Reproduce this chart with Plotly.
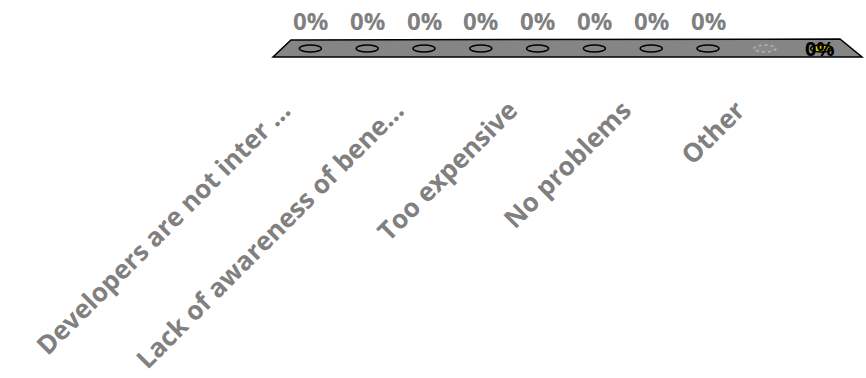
import plotly.graph_objects as go

categories = ["Developers are not inter …", "Lack of awareness of bene…", "Too expensive", "No problems", "Other"]
series_a = [0, 0, 0, 0, 0]
series_b = [0, 0, 0, 0, 0]

W, H = 866, 378
L, R, T, B = 282, 16, 40, 321

fig = go.Figure()
fig.add_trace(go.Bar(x=list(range(len(categories))), y=series_a, name="A",
                     marker=dict(color="#808080", line=dict(width=0))))
fig.add_trace(go.Bar(x=list(range(len(categories))), y=series_b, name="B",
                     marker=dict(color="#808080", line=dict(width=0))))

pw = W - L - R
ph = H - T - B
def px(xp):
    return (xp - L) / pw
def py(yp):
    return (H - B - yp) / ph

shapes = []
# floor (decorative plot background)
floor = [(291, 40), (840, 39), (862, 57), (273, 57)]
path = "M " + " L ".join(f"{px(a):.4f},{py(b):.4f}" for a, b in floor) + " Z"
shapes.append(dict(type="path", xref="paper", yref="paper", path=path,
                   fillcolor="#858585", line=dict(color="#000000", width=1.5), layer="below"))

annotations = []
n = len(categories)
for s, vals in enumerate([series_a, series_b]):
    for i, v in enumerate(vals):
        xc = i + (s - 0.5) * 0.5
        last = (i == n - 1)
        if last and s == 0:
            line = dict(color="#b4b4b4", width=1.5, dash="dot")
            fill = "#8a8a8a"
        elif last and s == 1:
            line = dict(color="#000000", width=1.5)
            fill = "#d8d000"
        else:
            line = dict(color="#000000", width=1.5)
            fill = "#858585"
        shapes.append(dict(type="circle", xref="x", yref="y",
                           xsizemode="pixel", ysizemode="pixel",
                           xanchor=xc, yanchor=v, x0=-11, x1=11, y0=-3.5, y1=3.5,
                           fillcolor=fill, line=line))
        if last and s == 1:
            annotations.append(dict(x=xc, y=v, xref="x", yref="y", text=f"{v:.0f}%",
                                    showarrow=False, yshift=0, xshift=-2,
                                    font=dict(family="Open Sans", size=20, color="#000000", weight="bold")))
        elif last:
            pass
        else:
            annotations.append(dict(x=xc, y=v, xref="x", yref="y", text=f"{v:.0f}%",
                                    showarrow=False, yshift=28,
                                    font=dict(family="Open Sans", size=24, color="#808080", weight="bold")))

fig.update_layout(
    width=W, height=H,
    margin=dict(l=L, r=R, t=T, b=B),
    paper_bgcolor="white", plot_bgcolor="rgba(0,0,0,0)",
    barmode="group", bargap=0, bargroupgap=0,
    showlegend=False,
    shapes=shapes, annotations=annotations,
    xaxis=dict(range=[-0.5, n - 0.5], tickmode="array",
               tickvals=list(range(n)), ticktext=categories,
               tickangle=-45, showgrid=False, zeroline=False, showline=False,
               ticks="", ticklabelstandoff=32, ticklabelshift=-56,
               tickfont=dict(family="Open Sans", size=26, color="#808080", weight="bold")),
    yaxis=dict(range=[-1, 1], visible=False, fixedrange=True),
)

fig.write_html("out.html")
